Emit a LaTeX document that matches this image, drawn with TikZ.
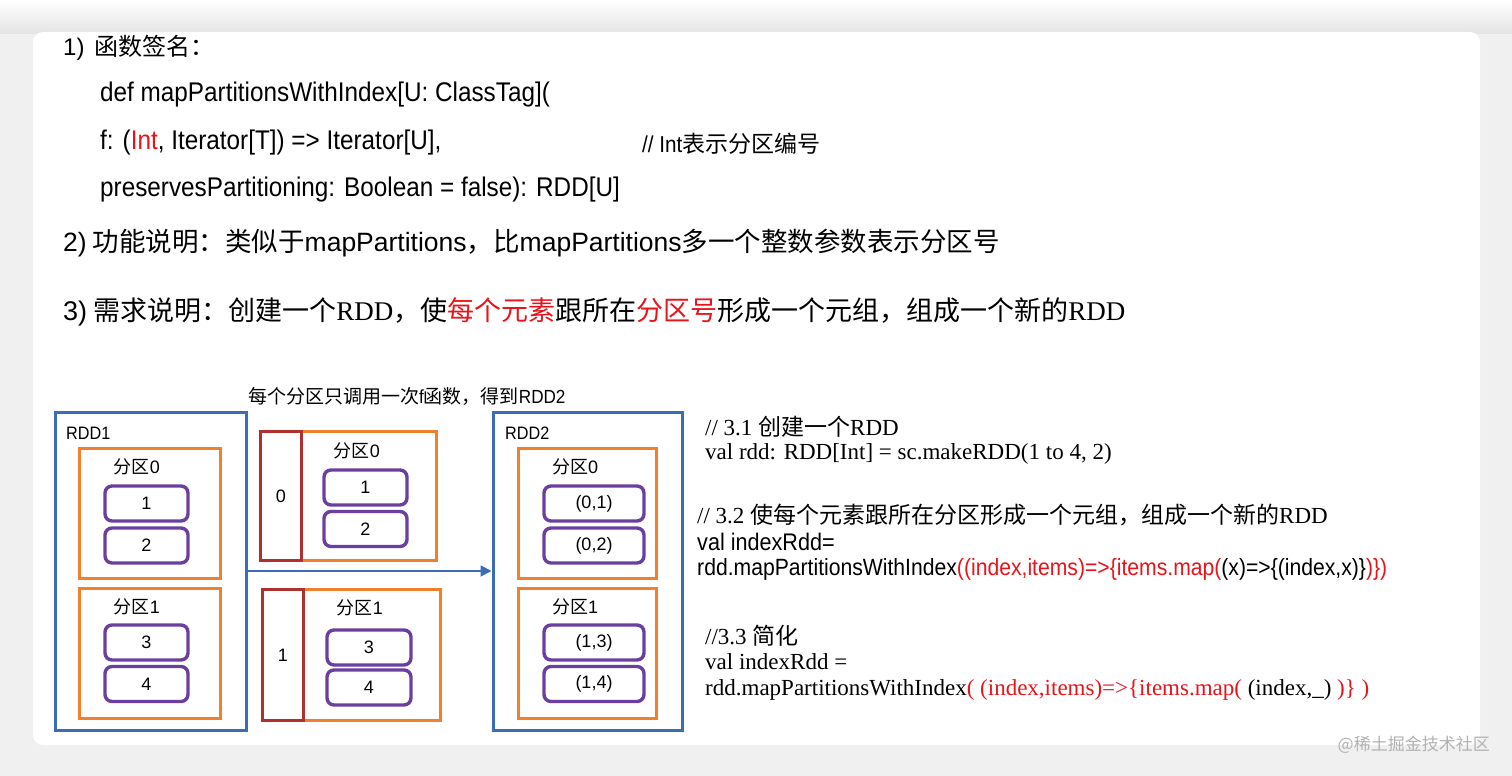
\documentclass[tikz,border=0pt]{standalone}
\usepackage{fontspec}
\usetikzlibrary{arrows.meta}
\setmainfont{Liberation Serif}
\newfontfamily\nsans{Liberation Sans}[FakeStretch=0.9]
\newfontfamily\lsans{Liberation Sans}
\newfontfamily\cjk{Noto Sans CJK SC}
\newcommand{\zh}[1]{{\cjk #1}}
\newcommand{\fsz}[1]{\fontsize{#1}{#1}\selectfont}
\definecolor{rddblue}{HTML}{3A6DB5}
\definecolor{partorange}{HTML}{F0802E}
\definecolor{itempurple}{HTML}{6A3FA0}
\definecolor{idxred}{HTML}{B0302E}
\definecolor{txtred}{HTML}{E8141A}
\tikzset{
  txt/.style={anchor=west, inner sep=0pt, text=black},
  rddbox/.style={draw=rddblue, line width=3pt, inner sep=0pt},
  partbox/.style={draw=partorange, line width=3pt, inner sep=0pt},
  itembox/.style={draw=itempurple, line width=3.4pt, rounded corners=7pt, inner sep=0pt, font=\lsans\fsz{18}},
  idxbox/.style={draw=idxred, line width=3pt, inner sep=0pt},
  lbl/.style={inner sep=0pt, font=\fsz{18}},
}
\begin{document}
\begin{tikzpicture}[x=1pt,y=-1pt]
\useasboundingbox (0,0) rectangle (1512,776);
\fill[gray!12] (0,0) rectangle (1512,776);
\shade[top color=white, bottom color=gray!22] (0,0) rectangle (1512,34);
\fill[white, rounded corners=10pt] (33,32) rectangle (1480,745);

% header text
\node[txt, font=\lsans\fsz{24}] (t1) at (63,48) {1)\hspace{0.4em}\zh{函数签名：}};
\node[txt, font=\nsans\fsz{27}] (t2) at (100,95) {def mapPartitionsWithIndex[U: ClassTag](};
\node[txt, font=\nsans\fsz{27}] (t3) at (100,143) {f: (\textcolor{txtred}{Int}, Iterator[T]) => Iterator[U],};
\node[txt, font=\nsans\fsz{23}] (t3c) at (642,144) {// Int\zh{表示分区编号}};
\node[txt, font=\nsans\fsz{27}] (t4) at (100,190) {preservesPartitioning: Boolean = false): RDD[U]};
\node[txt, font=\lsans\fsz{26.5}] (t5) at (63,243) {2)\zh{ 功能说明：类似于}mapPartitions\zh{，比}mapPartitions\zh{多一个整数参数表示分区号}};
\node[txt, font=\fsz{27}] (t6) at (63,312) {{\lsans 3)}\zh{ 需求说明：创建一个}RDD\zh{，使\textcolor{txtred}{每个元素}跟所在\textcolor{txtred}{分区号}形成一个元组，组成一个新的}RDD};

% diagram title
\node[txt, font=\nsans\fsz{19}] (dt) at (248,396) {\zh{每个分区只调用一次}f\zh{函数，得到}RDD2};

% RDD1
\node[rddbox, minimum width=191, minimum height=318] (rdd1) at (150.5,571) {};
\node[txt, font=\nsans\fsz{18}] (rdd1l) at (66,433) {RDD1};
\node[partbox, minimum width=141, minimum height=130] (a0) at (149.5,513) {};
\node[lbl] (a0l) at (137,467) {\zh{分区}{\lsans 0}};
\node[itembox, minimum width=83, minimum height=35] (a1) at (146.5,503.5) {1};
\node[itembox, minimum width=83, minimum height=35] (a2) at (146.5,545.5) {2};
\node[partbox, minimum width=141, minimum height=130] (b0) at (149.5,653) {};
\node[lbl] (b0l) at (137,607) {\zh{分区}{\lsans 1}};
\node[itembox, minimum width=83, minimum height=35] (a3) at (146.5,642.5) {3};
\node[itembox, minimum width=83, minimum height=35] (a4) at (146.5,684) {4};

% middle groups
\node[partbox, minimum width=176, minimum height=129] (m0) at (348,495.5) {};
\node[idxbox, minimum width=41, minimum height=129] (r0) at (280.5,495.5) {};
\node[lbl, font=\lsans\fsz{18}] (r0l) at (281,496) {0};
\node[lbl] (m0l) at (357,451) {\zh{分区}{\lsans 0}};
\node[itembox, minimum width=83, minimum height=35] (m1) at (365.5,487.5) {1};
\node[itembox, minimum width=83, minimum height=35] (m2) at (365.5,529) {2};
\node[partbox, minimum width=178, minimum height=131] (n0) at (351,654.5) {};
\node[idxbox, minimum width=41, minimum height=131] (r1) at (282.5,654.5) {};
\node[lbl, font=\lsans\fsz{18}] (r1l) at (283,655) {1};
\node[lbl] (n0l) at (360,608) {\zh{分区}{\lsans 1}};
\node[itembox, minimum width=84, minimum height=35] (m3) at (369,647.5) {3};
\node[itembox, minimum width=84, minimum height=35] (m4) at (369,687.5) {4};

% RDD2
\node[rddbox, minimum width=189, minimum height=318] (rdd2) at (587.5,571) {};
\node[txt, font=\nsans\fsz{18}] (rdd2l) at (505,433) {RDD2};
\node[partbox, minimum width=138, minimum height=130] (c0) at (587,513) {};
\node[lbl] (c0l) at (575,467) {\zh{分区}{\lsans 0}};
\node[itembox, minimum width=100, minimum height=35] (c1) at (594,503.5) {(0,1)};
\node[itembox, minimum width=100, minimum height=35] (c2) at (594,545.5) {(0,2)};
\node[partbox, minimum width=138, minimum height=130] (d0) at (587,653) {};
\node[lbl] (d0l) at (575,607) {\zh{分区}{\lsans 1}};
\node[itembox, minimum width=100, minimum height=35] (c3) at (594,642.5) {(1,3)};
\node[itembox, minimum width=100, minimum height=35] (c4) at (594,684) {(1,4)};

% arrow
\draw[draw=rddblue, line width=1.8pt, -{Triangle[length=11pt,width=11pt]}] (rdd1.east) -- (rdd2.west);

% right code
\node[txt, font=\fsz{23}] (r1t) at (705,427) {// 3.1 \zh{创建一个}RDD};
\node[txt, font=\fsz{23}] (r2t) at (705,454) {val rdd: RDD[Int] = sc.makeRDD(1 to 4, 2)};
\node[txt, font=\fsz{23}] (r3t) at (697,515) {// 3.2 \zh{使每个元素跟所在分区形成一个元组，组成一个新的}RDD};
\node[txt, font=\nsans\fsz{24}] (r4t) at (697,542) {val indexRdd=};
\node[txt, font=\nsans\fsz{23.5}] (r5t) at (697,569) {rdd.mapPartitionsWithIndex\textcolor{txtred}{((index,items)=>\{items.map(}(x)=>\{(index,x)\}\textcolor{txtred}{)\})}};
\node[txt, font=\fsz{23}] (r6t) at (705,636) {//3.3 \zh{简化}};
\node[txt, font=\fsz{23}] (r7t) at (705,662) {val indexRdd =};
\node[txt, font=\fsz{23}] (r8t) at (705,690) {rdd.mapPartitionsWithIndex\textcolor{txtred}{( (index,items)=>\{items.map(} (index,\_) \textcolor{txtred}{)\} )}};

% watermark
\node[anchor=east, inner sep=0pt, text=gray!60, font=\fsz{17}] (wm) at (1490,745) {\zh{@稀土掘金技术社区}};
\end{tikzpicture}
\end{document}
